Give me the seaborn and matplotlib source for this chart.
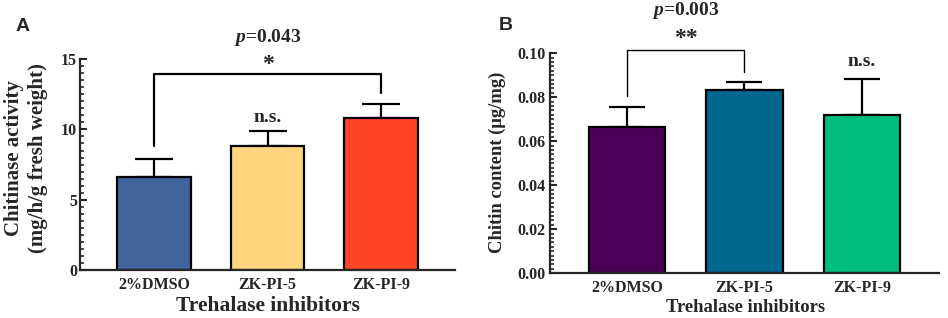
import numpy as np
import pandas as pd
import matplotlib
matplotlib.use("Agg")
import matplotlib.pyplot as plt
from matplotlib.ticker import MultipleLocator, FormatStrFormatter
import seaborn as sns

sns.set_theme(style="ticks")
plt.rcParams['font.family'] = ['Liberation Serif', 'DejaVu Serif']
plt.rcParams['font.weight'] = 'bold'
plt.rcParams['axes.labelweight'] = 'bold'
plt.rcParams['mathtext.fontset'] = 'custom'
plt.rcParams['mathtext.it'] = 'Liberation Serif:italic:bold'
plt.rcParams['mathtext.rm'] = 'Liberation Serif:bold'

# data
groups = ["2%DMSO", "ZK-PI-5", "ZK-PI-9"]
chitinase_mean = [6.6, 8.8, 10.8]
chitinase_err = [1.3, 1.1, 1.0]
chitin_mean = [0.0665, 0.0833, 0.0721]
chitin_err = [0.0090, 0.0038, 0.0161]
colors_a = ["#41649E", "#FED47F", "#FF4427"]
colors_b = ["#4D0057", "#00678F", "#00BE7B"]


def draw_panel(ax, means, errs, colors, capsize):
    df = pd.DataFrame({"group": groups, "value": means})
    sns.barplot(data=df, x="group", y="value", hue="group", palette=colors,
                saturation=1, legend=False, width=0.65, edgecolor="black",
                linewidth=1.6, errorbar=None, ax=ax)
    x = np.arange(len(groups))
    ax.errorbar(x, means, yerr=[np.zeros(len(means)), errs], fmt="none",
                ecolor="black", elinewidth=1.6, capsize=capsize, capthick=1.6,
                zorder=0.5)
    ax.set_xlim(-0.655, 2.655)
    sns.despine(ax=ax)
    for s in ["left", "bottom"]:
        ax.spines[s].set_linewidth(1.6)
    ax.tick_params(axis="both", which="major", direction="in", length=5,
                   width=1.5, labelsize=11.5)
    ax.tick_params(axis="y", which="minor", direction="in", length=3, width=1.2)
    ax.tick_params(axis="x", pad=5)
    ax.tick_params(axis="y", pad=2)


def bracket(ax, x1, x2, y, y1, y2, lw):
    ax.plot([x1, x1, x2, x2], [y1, y, y, y2], color="black", lw=lw,
            clip_on=False)


fig = plt.figure(figsize=(9.48, 3.18), dpi=100)
ax1 = fig.add_axes([0.0844, 0.151, 0.3956, 0.663])
ax2 = fig.add_axes([0.580, 0.1406, 0.4105, 0.6918])

# panel A
draw_panel(ax1, chitinase_mean, chitinase_err, colors_a, 14)
ax1.set_ylim(0, 15)
ax1.yaxis.set_major_locator(MultipleLocator(5))
ax1.yaxis.set_minor_locator(MultipleLocator(0.5))
ax1.set_ylabel("Chitinase activity\n(mg/h/g fresh weight)", fontsize=15,
               linespacing=1.25)
ax1.yaxis.set_label_coords(-0.085, 0.53)
ax1.set_xlabel("Trehalase inhibitors", fontsize=15.5, va="top")
ax1.xaxis.set_label_coords(0.5, -0.125)
bracket(ax1, 0, 2, 13.93, 8.83, 12.6, 1.6)
ax1.text(1, 14.2, "*", ha="center", va="baseline", fontsize=17,
         fontweight="bold")
ax1.text(1, 16.22, r"$\it{p}$=0.043", ha="center", va="baseline",
         fontsize=14, fontweight="bold", clip_on=False)
ax1.text(1, 10.52, "n.s.", ha="center", va="baseline", fontsize=14,
         fontweight="bold")

# panel B
draw_panel(ax2, chitin_mean, chitin_err, colors_b, 13)
ax2.set_ylim(0, 0.10)
ax2.yaxis.set_major_locator(MultipleLocator(0.02))
ax2.yaxis.set_minor_locator(MultipleLocator(0.002))
ax2.yaxis.set_major_formatter(FormatStrFormatter("%.2f"))
ax2.tick_params(axis="y", pad=3)
ax2.set_ylabel("Chitin content (\u03bcg/mg)", fontsize=13.4)
ax2.yaxis.set_label_coords(-0.113, 0.506)
ax2.set_xlabel("Trehalase inhibitors", fontsize=13.4, va="top")
ax2.xaxis.set_label_coords(0.504, -0.115)
bracket(ax2, 0, 1, 0.1015, 0.0806, 0.0916, 1.0)
ax2.text(0.5, 0.1042, "**", ha="center", va="baseline", fontsize=17,
         fontweight="bold")
ax2.text(0.5, 0.1174, r"$\it{p}$=0.003", ha="center", va="baseline",
         fontsize=14, fontweight="bold")
ax2.text(2, 0.0944, "n.s.", ha="center", va="baseline", fontsize=14,
         fontweight="bold")

# panel letters
fig.text(0.024, 0.918, "A", fontsize=14, fontweight="bold",
         family="Liberation Sans", ha="center", va="center")
fig.text(0.534, 0.921, "B", fontsize=14, fontweight="bold",
         family="Liberation Sans", ha="center", va="center")

fig.savefig("out.png", dpi=100)
